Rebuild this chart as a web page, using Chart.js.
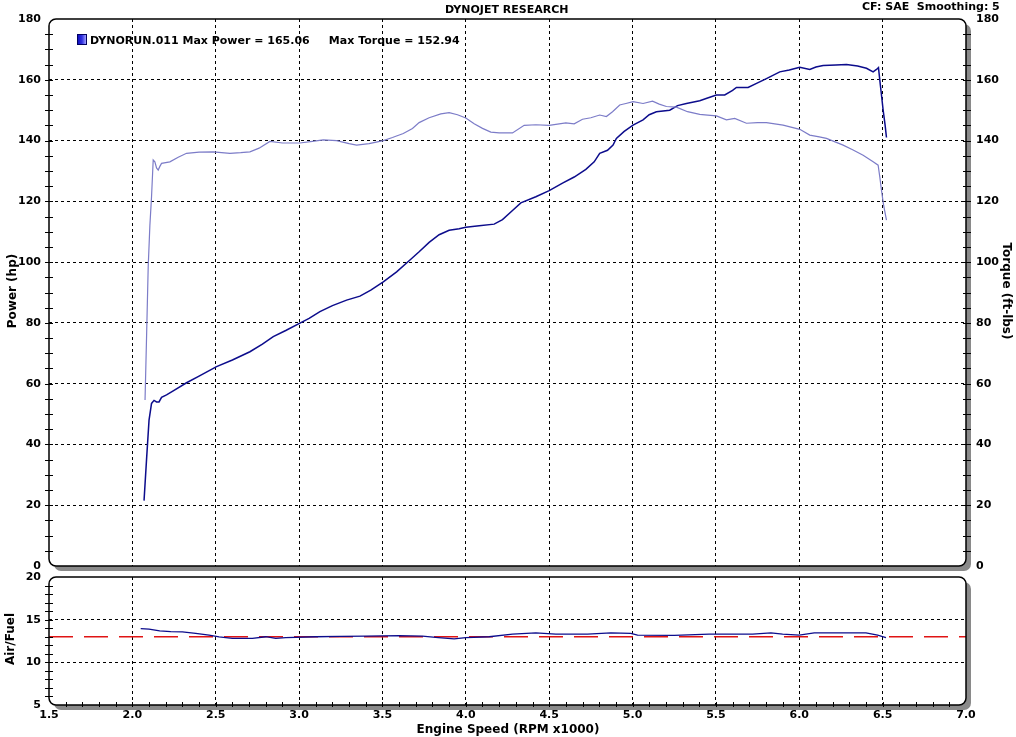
<!DOCTYPE html>
<html>
<head>
<meta charset="utf-8">
<title>Dynojet Research</title>
<script src="https://cdn.jsdelivr.net/npm/chart.js@4.4.1/dist/chart.umd.min.js"></script>
<style>
  body { margin: 0; background: #fff; width: 1016px; height: 737px; position: relative; overflow: hidden;
         font-family: "DejaVu Sans", Verdana, sans-serif; font-weight: bold; color: #000; }
  canvas { position: absolute; left: 0; }
  #powerChart { top: 0; }
  #afrChart { top: 570px; }
  .txt { position: absolute; white-space: pre; line-height: 1; }
  .rot { transform-origin: center center; }
</style>
</head>
<body>
<canvas id="powerChart" width="1016" height="580"></canvas>
<canvas id="afrChart" width="1016" height="167"></canvas>

<div class="txt" style="left:445px; top:4px; font-size:11px;">DYNOJET RESEARCH</div>
<div class="txt" style="left:862px; top:1px; font-size:11px;">CF: SAE  Smoothing: 5</div>
<div style="position:absolute; left:77px; top:34px; width:8px; height:9px; border:1px solid #000060;
            background:linear-gradient(to right, #1010c0 0%, #3030e0 50%, #a0a0ff 100%);"></div>
<div class="txt" style="left:90px; top:35px; font-size:11px;">DYNORUN.011 Max Power = 165.06     Max Torque = 152.94</div>
<div class="txt rot" style="left:-28px; top:285px; width:80px; text-align:center; font-size:12px; transform:rotate(-90deg);">Power (hp)</div>
<div class="txt rot" style="left:955px; top:285px; width:104px; text-align:center; font-size:12px; transform:rotate(90deg);">Torque (ft-lbs)</div>
<div class="txt rot" style="left:-22px; top:633px; width:64px; text-align:center; font-size:12px; transform:rotate(-90deg);">Air/Fuel</div>
<div class="txt" style="left:408px; top:723px; width:200px; text-align:center; font-size:12px;">Engine Speed (RPM x1000)</div>

<script>
// --- Data ---
const xTicks = [1.5, 2.0, 2.5, 3.0, 3.5, 4.0, 4.5, 5.0, 5.5, 6.0, 6.5, 7.0];
const xTickLabels = ['1.5', '2.0', '2.5', '3.0', '3.5', '4.0', '4.5', '5.0', '5.5', '6.0', '6.5', '7.0'];
const powerTicks = [0, 20, 40, 60, 80, 100, 120, 140, 160, 180];
const afrTicks = [5, 10, 15, 20];

const powerRpm = [2.07, 2.085, 2.10, 2.115, 2.13, 2.145, 2.16, 2.175, 2.205, 2.25, 2.325, 2.4, 2.505, 2.6, 2.705,
  2.78, 2.845, 2.92, 3.005, 3.06, 3.125, 3.2, 3.285, 3.365, 3.43, 3.505, 3.585, 3.665, 3.72, 3.78, 3.84, 3.9,
  3.96, 4.0, 4.08, 4.17, 4.22, 4.28, 4.33, 4.42, 4.5, 4.58, 4.65, 4.72, 4.77, 4.803, 4.85, 4.883, 4.903, 4.95,
  5.003, 5.063, 5.1, 5.143, 5.223, 5.27, 5.323, 5.403, 5.45, 5.503, 5.553, 5.6, 5.623, 5.693, 5.75, 5.803,
  5.883, 5.94, 6.003, 6.063, 6.1, 6.143, 6.22, 6.283, 6.35, 6.403, 6.443, 6.463, 6.475, 6.483, 6.495, 6.503,
  6.515, 6.523];
const powerHp = [21.5, 35, 48, 53.5, 54.5, 54, 54, 55.5, 56.3, 57.8, 60.3, 62.5, 65.6, 67.8, 70.5,
  73, 75.5, 77.5, 79.9, 81.5, 83.7, 85.7, 87.5, 88.8, 90.8, 93.5, 96.8, 100.7, 103.4, 106.5, 109, 110.5,
  111, 111.5, 112, 112.5, 114, 117, 119.5, 121.5, 123.5, 126, 128, 130.5, 133, 135.8, 136.8, 138.5, 140.7, 143,
  145.1, 146.8, 148.5, 149.5, 150, 151.5, 152.2, 153.1, 154, 155, 155, 156.5, 157.5, 157.5, 159, 160.4,
  162.6, 163.2, 164.1, 163.4, 164.2, 164.7, 164.9, 165.06, 164.5, 163.8, 162.6, 163.4, 164, 159.9, 154, 150,
  145, 141];

const torqueRpm = [2.076, 2.085, 2.095, 2.105, 2.115, 2.125, 2.135, 2.145, 2.155, 2.165, 2.175, 2.225, 2.275,
  2.325, 2.4, 2.485, 2.585, 2.65, 2.705, 2.76, 2.825, 2.9, 3.005, 3.08, 3.145, 3.225, 3.3, 3.345, 3.42, 3.505,
  3.56, 3.625, 3.68, 3.72, 3.78, 3.85, 3.9, 3.95, 4.0, 4.05, 4.1, 4.15, 4.2, 4.28, 4.35, 4.42, 4.5, 4.6, 4.65,
  4.7, 4.75, 4.803, 4.843, 4.88, 4.923, 4.96, 5.003, 5.063, 5.12, 5.16, 5.203, 5.263, 5.33, 5.403, 5.45, 5.503,
  5.563, 5.613, 5.683, 5.75, 5.803, 5.903, 6.003, 6.063, 6.12, 6.163, 6.263, 6.32, 6.383, 6.443, 6.473, 6.483,
  6.493, 6.505, 6.523];
const torqueFtLb = [54.6, 75, 98.5, 112, 121.5, 133.6, 133, 131, 130.3, 131.5, 132.5, 133, 134.5,
  135.8, 136.2, 136.3, 135.8, 136, 136.3, 137.5, 139.7, 139.2, 139.2, 139.7, 140.2, 140, 139, 138.5, 139, 140,
  141, 142.3, 144, 145.9, 147.5, 148.8, 149.2, 148.5, 147.4, 145.5, 144, 142.8, 142.5, 142.5, 145, 145.2, 145, 145.8, 145.5,
  147, 147.5, 148.4, 147.9, 149.5, 151.7, 152.2, 152.8, 152.2, 152.94, 152, 151.2, 151, 149.5, 148.6, 148.4, 148.1,
  146.8, 147.3, 145.7, 145.9, 145.9, 145.1, 143.7, 141.8, 141.2, 140.7, 138.5, 137, 135.2, 133, 131.9, 128,
  123.7, 119, 113.8];

const afrRpm = [2.05, 2.10, 2.164, 2.23, 2.30, 2.38, 2.46, 2.52, 2.60, 2.72, 2.80, 2.86, 2.92, 3.10, 3.25, 3.40,
  3.60, 3.74, 3.835, 3.93, 4.0, 4.14, 4.28, 4.42, 4.54, 4.73, 4.87, 4.99, 5.03, 5.25, 5.46, 5.72, 5.83, 5.9,
  6.0, 6.09, 6.40, 6.47, 6.52];
const afrValues = [13.95, 13.9, 13.68, 13.6, 13.57, 13.4, 13.18, 12.98, 12.8, 12.8, 13.0, 12.8, 12.9, 13.0, 13.05, 13.06,
  13.14, 13.06, 12.9, 12.75, 12.9, 13.0, 13.3, 13.45, 13.3, 13.3, 13.45, 13.4, 13.2, 13.15, 13.3, 13.3, 13.45, 13.3,
  13.2, 13.45, 13.45, 13.2, 12.9];
const afrTargetRpm = [1.5, 7.0];
const afrTarget = [13.0, 13.0];

// --- Helpers ---
const toPoints = (xs, ys) => xs.map((x, i) => ({ x: x, y: ys[i] }));
const FONT = { family: '"DejaVu Sans", Verdana, sans-serif', size: 11, weight: 'bold' };

// dashed grid, but hide the line at the frame edges
function gridColor(min, max) {
  return (c) => (c.tick && (c.tick.value === min || c.tick.value === max)) ? 'rgba(0,0,0,0)' : '#000';
}

// rounded frame with grey drop shadow + small axis ticks (dyno-sheet look)
const framePlugin = {
  id: 'frame',
  beforeDraw(chart) {
    const a = chart.chartArea, ctx = chart.ctx;
    const w = a.right - a.left, h = a.bottom - a.top;
    ctx.save();
    ctx.fillStyle = '#8a8a8a';
    ctx.beginPath(); ctx.roundRect(a.left + 5, a.top + 5, w, h, 7); ctx.fill();
    ctx.fillStyle = '#fff';
    ctx.beginPath(); ctx.roundRect(a.left, a.top, w, h, 7); ctx.fill();
    ctx.restore();
  },
  afterDraw(chart, args, opts) {
    const a = chart.chartArea, ctx = chart.ctx;
    ctx.save();
    ctx.strokeStyle = '#000';
    ctx.lineWidth = 1.5;
    ctx.beginPath(); ctx.roundRect(a.left, a.top, a.right - a.left, a.bottom - a.top, 7); ctx.stroke();

    ctx.lineWidth = 1;
    ctx.beginPath();
    if (opts.leftStep) {
      const s = chart.scales.y;
      for (let v = s.min + opts.leftStep; v < s.max; v += opts.leftStep) {
        const y = Math.round(s.getPixelForValue(v)) + 0.5;
        ctx.moveTo(a.left - 4, y); ctx.lineTo(a.left + 4, y);
      }
    }
    if (opts.rightStep) {
      const s = chart.scales.y2;
      for (let v = s.min + opts.rightStep; v < s.max; v += opts.rightStep) {
        const y = Math.round(s.getPixelForValue(v)) + 0.5;
        ctx.moveTo(a.right - 3, y); ctx.lineTo(a.right + 5, y);
      }
    }
    if (opts.bottomStep) {
      const s = chart.scales.x;
      const n = Math.round((s.max - s.min) / opts.bottomStep);
      for (let i = 1; i < n; i++) {
        const x = Math.round(s.getPixelForValue(s.min + i * opts.bottomStep)) + 0.5;
        ctx.moveTo(x, a.bottom - 3); ctx.lineTo(x, a.bottom + 2);
      }
    }
    ctx.stroke();
    ctx.restore();
  }
};

function xScale(showLabels, height) {
  return {
    type: 'linear', min: 1.5, max: 7.0,
    afterBuildTicks: (s) => { s.ticks = xTicks.map(v => ({ value: v })); },
    afterFit: (s) => { s.height = height; s.paddingLeft = 0; s.paddingRight = 0; },
    ticks: { display: showLabels, padding: 4, color: '#000', font: FONT, maxRotation: 0,
             callback: (v, i) => xTickLabels[i] },
    grid: { drawTicks: false, color: gridColor(1.5, 7.0), lineWidth: 1 },
    border: { display: false, dash: [3, 3] }
  };
}

function yScale(ticks, labels, pos, width, padding) {
  const min = ticks[0], max = ticks[ticks.length - 1];
  return {
    type: 'linear', position: pos, min: min, max: max,
    afterBuildTicks: (s) => { s.ticks = ticks.map(v => ({ value: v })); },
    // fixed axis width, and no extra room reserved for the end labels
    afterFit: (s) => { s.width = width; s.paddingTop = 0; s.paddingBottom = 0; },
    ticks: { padding: padding, color: '#000', font: FONT, callback: (v, i) => labels[i] },
    grid: { drawTicks: false, display: pos === 'left', color: gridColor(min, max), lineWidth: 1 },
    border: { display: false, dash: [3, 3] }
  };
}

// --- Power / torque chart ---
new Chart(document.getElementById('powerChart'), {
  type: 'line',
  data: {
    datasets: [
      { label: 'Torque', data: toPoints(torqueRpm, torqueFtLb), yAxisID: 'y2',
        borderColor: '#7c7cc8', borderWidth: 1.2 },
      { label: 'Power', data: toPoints(powerRpm, powerHp), yAxisID: 'y',
        borderColor: '#0c0c8c', borderWidth: 1.5 }
    ]
  },
  options: {
    responsive: false, animation: false, devicePixelRatio: 1,
    layout: { padding: { top: 19, left: 0, right: 0, bottom: 0 } },
    elements: { point: { radius: 0 }, line: { tension: 0 } },
    plugins: { legend: { display: false }, tooltip: { enabled: false },
               frame: { leftStep: 5, rightStep: 5 } },
    scales: {
      x: xScale(false, 14),
      y: yScale(powerTicks, powerTicks.map(String), 'left', 49, 8),
      y2: yScale(powerTicks, powerTicks.map(String), 'right', 50, 10)
    }
  },
  plugins: [framePlugin]
});

// --- Air/Fuel chart ---
new Chart(document.getElementById('afrChart'), {
  type: 'line',
  data: {
    datasets: [
      { label: 'AFR', data: toPoints(afrRpm, afrValues), borderColor: '#0c0c8c', borderWidth: 1.3 },
      { label: 'Target', data: toPoints(afrTargetRpm, afrTarget), borderColor: '#e01414', borderWidth: 1.3,
        borderDash: [24, 11] }
    ]
  },
  options: {
    responsive: false, animation: false, devicePixelRatio: 1,
    layout: { padding: { top: 7, left: 0, right: 50, bottom: 0 } },
    elements: { point: { radius: 0 }, line: { tension: 0 } },
    plugins: { legend: { display: false }, tooltip: { enabled: false },
               frame: { leftStep: 1, bottomStep: 0.1 } },
    scales: {
      x: xScale(true, 32),
      y: yScale(afrTicks, afrTicks.map(String), 'left', 49, 8)
    }
  },
  plugins: [framePlugin]
});
</script>
</body>
</html>
